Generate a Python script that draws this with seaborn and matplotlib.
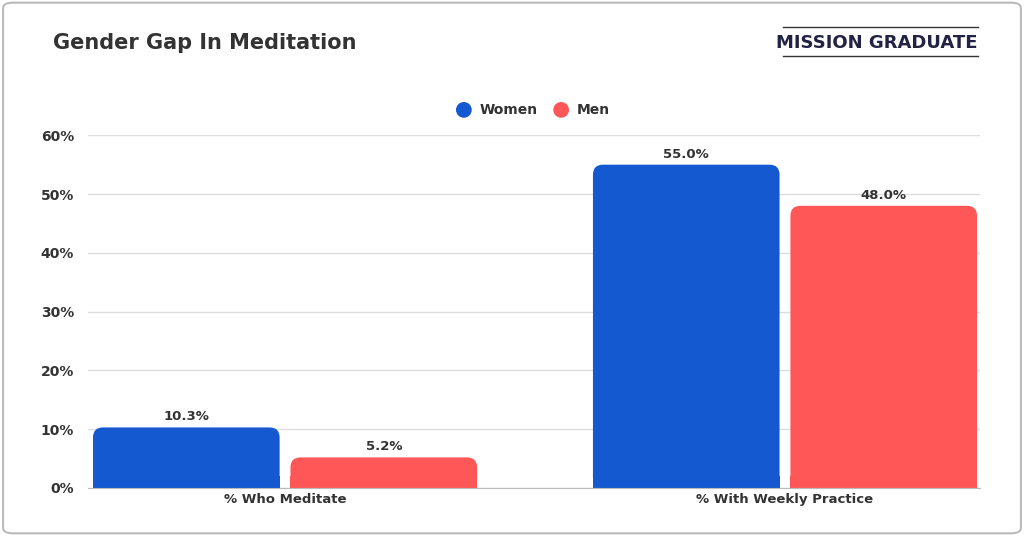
import matplotlib
matplotlib.use("Agg")
import matplotlib.pyplot as plt
import seaborn as sns
import pandas as pd
from matplotlib.patches import FancyBboxPatch, Rectangle, Ellipse

categories = ["% Who Meditate", "% With Weekly Practice"]
women = [10.3, 55.0]
men = [5.2, 48.0]
series = ["Women", "Men"]
colors = ["#1459CF", "#FF5757"]
yticks = [0, 10, 20, 30, 40, 50, 60]

df = pd.DataFrame({
    "cat": categories * 2,
    "val": women + men,
    "who": ["Women"] * 2 + ["Men"] * 2,
})

fig = plt.figure(figsize=(10.24, 5.36), dpi=100)
fig.patches.append(FancyBboxPatch((0.003, 0.005), 0.994, 0.99, boxstyle="round,pad=0,rounding_size=0.01",
                                  transform=fig.transFigure, fc="white", ec="#BBBBBB", lw=1.5, zorder=-5))
ax = fig.add_axes([0.086, 0.0896, 0.871, 0.658])
ax.patch.set_alpha(0)
sns.barplot(data=df, x="cat", y="val", hue="who", hue_order=series, palette=colors,
            width=0.79, gap=0.055, ax=ax, legend=False, saturation=1)
ax.set_xlim(-0.394, 1.39)
ax.set_ylim(0, 60)
ax.set_yticks(yticks)
ax.set_yticklabels([f"{t}%" for t in yticks], fontsize=10, fontweight="bold", color="#333333")
ax.tick_params(axis="x", labelsize=9.5, colors="#333333", length=0)
for l in ax.get_xticklabels():
    l.set_fontweight("bold")
ax.tick_params(axis="y", length=0, pad=10)
ax.set_xlabel(""); ax.set_ylabel("")
ax.grid(axis="y", color="#DDDDDD", lw=1)
ax.set_axisbelow(True)
for s in ["top", "right", "left"]:
    ax.spines[s].set_visible(False)
ax.spines["bottom"].set_color("#BBBBBB")
for c in ax.containers:
    ax.bar_label(c, fmt="%.1f%%", padding=3, fontsize=9.5, fontweight="bold", color="#333333")
for p in list(ax.patches):
    x, y, w, h = p.get_x(), p.get_y(), p.get_width(), p.get_height()
    if h <= 0:
        continue
    p.set_visible(False)
    fb = FancyBboxPatch((x, y), w, h, boxstyle="round,pad=0,rounding_size=0.02",
                        mutation_aspect=85, fc=p.get_facecolor(), ec="none")
    ax.add_patch(fb)
    ax.add_patch(Rectangle((x, 0), w, min(h, 2), fc=p.get_facecolor(), ec="none"))

fig.text(0.052, 0.92, "Gender Gap In Meditation", fontsize=15, fontweight="bold", color="#333333", va="center")
fig.text(0.955, 0.92, "MISSION GRADUATE", fontsize=13, fontweight="bold", color="#222244", va="center", ha="right")
fig.add_artist(plt.Line2D([0.765, 0.955], [0.95, 0.95], color="#333333", lw=1, transform=fig.transFigure))
fig.add_artist(plt.Line2D([0.765, 0.955], [0.895, 0.895], color="#333333", lw=1, transform=fig.transFigure))
for i, (s, c) in enumerate(zip(series, colors)):
    x0 = 0.453 + i * 0.095
    fig.patches.append(Ellipse((x0, 0.795), 0.014, 0.014 * 1024 / 536, color=c, transform=fig.transFigure))
    fig.text(x0 + 0.015, 0.795, s, fontsize=10, fontweight="bold", color="#333333", va="center")
fig.savefig("out.png", dpi=100)
